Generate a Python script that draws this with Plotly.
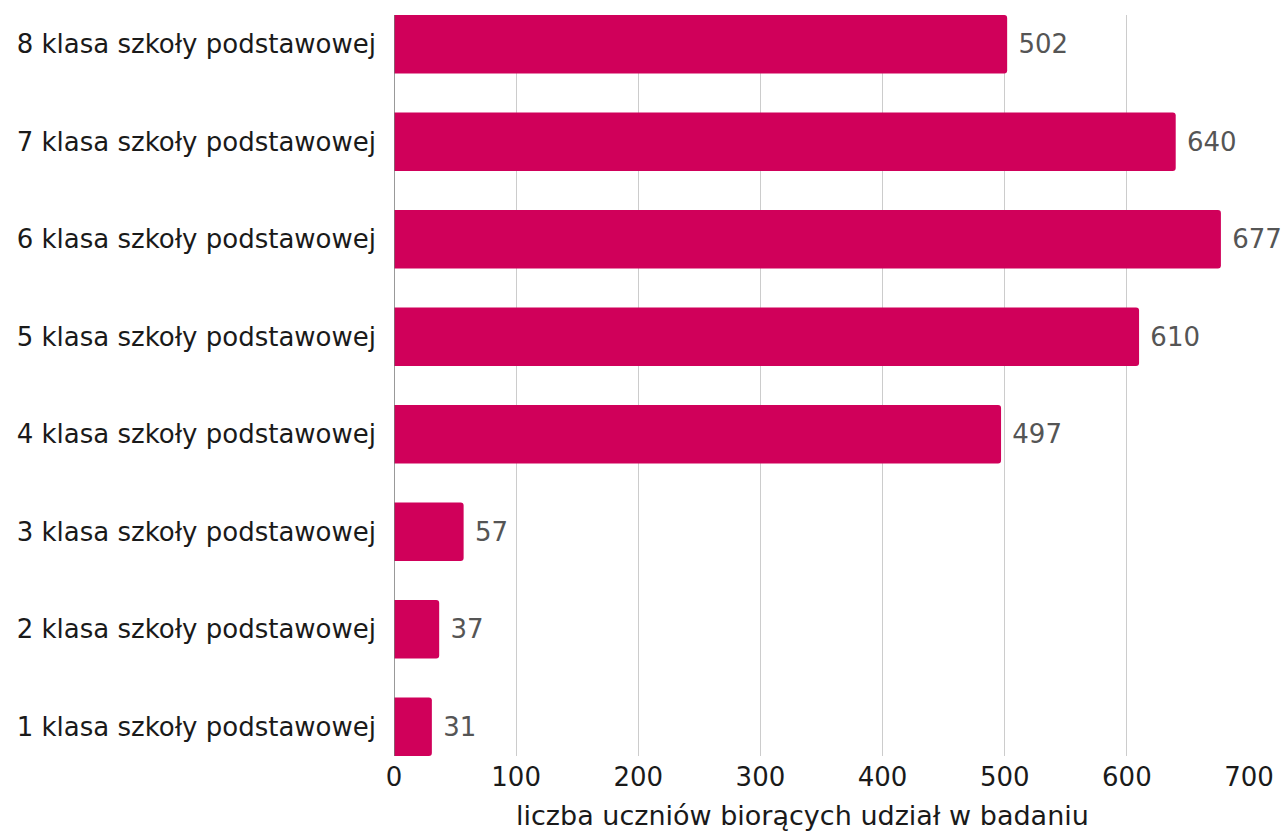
import plotly.graph_objects as go

categories = ["1 klasa szkoły podstawowej", "2 klasa szkoły podstawowej", "3 klasa szkoły podstawowej",
              "4 klasa szkoły podstawowej", "5 klasa szkoły podstawowej", "6 klasa szkoły podstawowej",
              "7 klasa szkoły podstawowej", "8 klasa szkoły podstawowej"]
values = [31, 37, 57, 497, 610, 677, 640, 502]
x_ticks = [0, 100, 200, 300, 400, 500, 600, 700]
x_title = "liczba uczniów biorących udział w badaniu"

FONT = "DejaVu Sans"
FS = 26

fig = go.Figure(go.Bar(
    y=categories, x=values, orientation="h",
    marker=dict(color="#D0005A", line=dict(width=0)),
    width=0.6,
    text=[" " + str(v) for v in values], textposition="outside",
    textfont=dict(family=FONT, size=FS, color="#555555"),
    cliponaxis=False,
))
fig.update_layout(
    width=1282, height=834,
    margin=dict(l=394, r=33, t=15, b=78, autoexpand=False),
    plot_bgcolor="white", paper_bgcolor="white",
    barcornerradius=3,
    showlegend=False,
    font=dict(family=FONT, size=FS, color="#1a1a1a"),
    xaxis=dict(range=[0, 700], tickvals=x_ticks, showgrid=True, gridcolor="#cccccc", gridwidth=1,
               zeroline=False, showline=False, ticks="", ticklabelstandoff=3, automargin=False,
               tickfont=dict(size=FS)),
    yaxis=dict(range=[-0.3, 7.3], showgrid=False, zeroline=False, showline=False, ticks="",
               ticklabelstandoff=17, automargin=False, tickfont=dict(size=FS)),
    shapes=[dict(type="line", xref="x", yref="paper", x0=0, x1=0, y0=0, y1=1,
                 line=dict(color="#777777", width=1.5))],
    annotations=[dict(text=x_title, xref="paper", yref="paper", x=(802 - 394) / 855,
                      y=-(815 - 756) / 741, xanchor="center", yanchor="middle",
                      showarrow=False, font=dict(size=FS + 1, color="#1a1a1a"))],
)
fig.write_html("out.html")
